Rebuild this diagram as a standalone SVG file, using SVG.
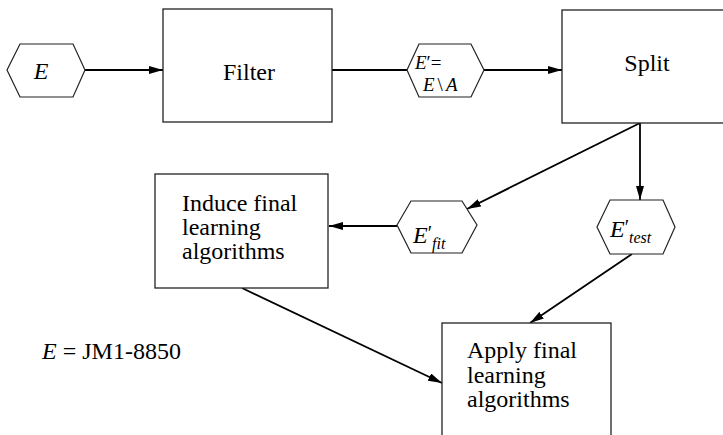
<svg xmlns="http://www.w3.org/2000/svg" width="723" height="435" viewBox="0 0 723 435">
  <defs>
    <marker id="arrow" viewBox="0 0 14 8" refX="14" refY="4" markerWidth="14" markerHeight="8" markerUnits="userSpaceOnUse" orient="auto">
      <path d="M0,0 L14,4 L0,8 Z" fill="#000"/>
    </marker>
  </defs>
  <style>
    .box { fill: #fff; stroke: #222; stroke-width: 1.3; }
    .hex { fill: #fff; stroke: #222; stroke-width: 1.2; }
    .edge { fill: none; stroke: #000; stroke-width: 1.8; }
    .lbl { font-family: "Liberation Serif", "Times New Roman", serif; font-size: 24px; fill: #000; }
    .math { font-family: "Liberation Serif", "Times New Roman", serif; font-style: italic; fill: #000; }
    .up { font-style: normal; font-size: 20px; }
    .sub { font-size: 16px; }
  </style>
  <rect width="723" height="435" fill="#fff"/>

  <!-- connectors -->
  <g id="connectors">
    <line class="edge" x1="85" y1="70" x2="163" y2="70" marker-end="url(#arrow)"/>
    <line class="edge" x1="332" y1="70" x2="407" y2="70"/>
    <line class="edge" x1="484" y1="70" x2="562" y2="70" marker-end="url(#arrow)"/>
    <line class="edge" x1="640" y1="123" x2="640" y2="200" marker-end="url(#arrow)"/>
    <line class="edge" x1="640" y1="123" x2="467" y2="209" marker-end="url(#arrow)"/>
    <line class="edge" x1="397" y1="226" x2="329" y2="226" marker-end="url(#arrow)"/>
    <line class="edge" x1="242" y1="288" x2="442" y2="383" marker-end="url(#arrow)"/>
    <line class="edge" x1="632" y1="254" x2="530" y2="323" marker-end="url(#arrow)"/>
  </g>

  <!-- input data set E -->
  <g id="node-e">
    <polygon class="hex" points="7,70 20,44 73,44 85,70 73,97 20,97"/>
    <text class="math" x="41" y="79" font-size="24" text-anchor="middle">E</text>
  </g>

  <g id="node-filter">
    <rect class="box" x="163" y="9" width="169" height="113"/>
    <text class="lbl" x="249" y="80" text-anchor="middle">Filter</text>
  </g>

  <!-- filtered data set E' = E \ A, set as two tight lines -->
  <g id="node-eprime">
    <polygon class="hex" points="407,70 419,44 471,44 484,70 471,97 419,97"/>
    <text class="math" x="415" y="69" font-size="19">E<tspan font-style="normal">′=</tspan></text>
    <text class="math" x="423" y="91" font-size="19">E<tspan font-style="normal" dx="3">\</tspan><tspan dx="3">A</tspan></text>
  </g>

  <g id="node-split">
    <rect class="box" x="562" y="10" width="200" height="113"/>
    <text class="lbl" x="647" y="71" text-anchor="middle">Split</text>
  </g>

  <g id="node-efit">
    <polygon class="hex" points="397,225 411,201 462,201 477,225 462,253 411,253"/>
    <text class="math" x="413" y="243" font-size="24">E<tspan class="up" dy="-3">′</tspan><tspan class="sub" dy="9">fit</tspan></text>
  </g>

  <g id="node-etest">
    <polygon class="hex" points="597,227 610,200 663,200 675,227 663,254 610,254"/>
    <text class="math" x="610" y="237" font-size="24">E<tspan class="up" dy="-3">′</tspan><tspan class="sub" dy="9">test</tspan></text>
  </g>

  <g id="node-induce">
    <rect class="box" x="155" y="174" width="173" height="114"/>
    <text class="lbl" x="182" y="211">Induce final</text>
    <text class="lbl" x="182" y="235">learning</text>
    <text class="lbl" x="182" y="259">algorithms</text>
  </g>

  <g id="node-apply">
    <rect class="box" x="442" y="323" width="169" height="140"/>
    <text class="lbl" x="467" y="358">Apply final</text>
    <text class="lbl" x="467" y="383">learning</text>
    <text class="lbl" x="467" y="407">algorithms</text>
  </g>

  <!-- legend -->
  <text class="lbl" x="42" y="359"><tspan font-style="italic">E</tspan> = JM1-8850</text>
</svg>
